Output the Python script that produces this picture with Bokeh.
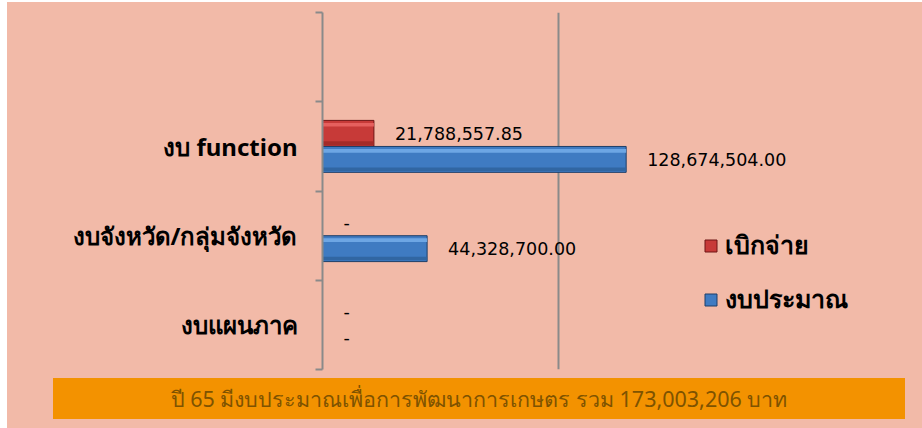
from bokeh.plotting import figure
from bokeh.models import (ColumnDataSource, Range1d, LinearAxis, FixedTicker, Legend, LegendItem,
                          Div, Grid)
from bokeh.transform import dodge
from bokeh.layouts import column
from bokeh.core.properties import value
from bokeh.embed import file_html
from bokeh.resources import INLINE

# ---- data ----
categories = ["งบ function", "งบจังหวัด/กลุ่มจังหวัด", "งบแผนภาค"]
disbursed = [21788557.85, 0.0, 0.0]          # เบิกจ่าย
budget = [128674504.00, 44328700.00, 0.0]    # งบประมาณ
series_names = ["เบิกจ่าย", "งบประมาณ"]
grid_ticks = [100e6]
banner_text = "ปี 65 มีงบประมาณเพื่อการพัฒนาการเกษตร รวม 173,003,206 บาท"

# ---- styles ----
BG = "#F2BAA8"
GRAY = "#8A8A8A"
RED, RED_HI, RED_LO, RED_LN = "#C73A38", "#E96563", "#A02A28", "#6E1515"
BLU, BLU_HI, BLU_LO, BLU_LN = "#3F7BC2", "#72ABE8", "#30649F", "#1E3E68"
THAI_FONT = "Noto Sans"

n = len(categories)
slots = n + 1                                   # top slot of the category axis is empty
centers = [n - 1 - i + 0.5 for i in range(n)]   # category slots, top to bottom


def fmt(v):
    return "-" if v == 0 else f"{v:,.2f}"


src = ColumnDataSource(dict(
    ypos=centers,
    disb=disbursed,
    bud=budget,
    disb_lbl=[fmt(v) for v in disbursed],
    bud_lbl=[fmt(v) for v in budget],
    disb_ln=[RED_LN if v else "rgba(0,0,0,0)" for v in disbursed],
    bud_ln=[BLU_LN if v else "rgba(0,0,0,0)" for v in budget],
))

p = figure(width=915, height=370,
           y_range=Range1d(0, slots), x_range=Range1d(0, 250e6),
           output_backend="svg", toolbar_location=None,
           x_axis_location=None, y_axis_location=None,
           min_border_left=315, min_border_right=10, min_border_top=10, min_border_bottom=3,
           background_fill_color=BG, border_fill_color=BG, outline_line_color=None)
p.xgrid.visible = False
p.ygrid.visible = False

p.add_layout(Grid(dimension=0, ticker=FixedTicker(ticks=grid_ticks),
                  grid_line_color=GRAY, grid_line_width=2))

ax = LinearAxis(ticker=FixedTicker(ticks=centers, minor_ticks=list(range(slots + 1))),
                major_label_overrides={c: lab for c, lab in zip(centers, categories)},
                major_tick_out=0, major_tick_in=0, minor_tick_out=7, minor_tick_in=0,
                major_tick_line_color=None,
                minor_tick_line_color=GRAY, minor_tick_line_width=2,
                axis_line_color=GRAY, axis_line_width=2,
                major_label_standoff=18, major_label_text_font=THAI_FONT,
                major_label_text_font_style="bold",
                major_label_text_font_size="24px", major_label_text_color="black")
p.add_layout(ax, "left")

H = 0.29
OFF = 0.146


def bevel_bar(field, off, main, hi, lo, ln_field):
    r = p.hbar(y=dodge("ypos", off), left=0, right=field, height=H,
               source=src, fill_color=main, line_color=ln_field, line_width=1)
    p.hbar(y=dodge("ypos", off + H * 0.33), left=0, right=field, height=H * 0.14,
           source=src, fill_color=hi, fill_alpha=0.9, line_color=None)
    p.hbar(y=dodge("ypos", off - H * 0.38), left=0, right=field, height=H * 0.14,
           source=src, fill_color=lo, fill_alpha=0.9, line_color=None)
    return r


r_red = bevel_bar("disb", OFF, RED, RED_HI, RED_LO, "disb_ln")
r_blu = bevel_bar("bud", -OFF, BLU, BLU_HI, BLU_LO, "bud_ln")

for field, lbl, off in (("disb", "disb_lbl", OFF), ("bud", "bud_lbl", -OFF)):
    p.text(x=field, y=dodge("ypos", off), text=lbl, source=src,
           x_offset=21, text_baseline="middle", text_align="left",
           text_font=value("DejaVu Sans"), text_font_size="17.5px", text_color="black")

legend = Legend(items=[LegendItem(label=series_names[0], renderers=[r_red]),
                       LegendItem(label=series_names[1], renderers=[r_blu])],
                location=(381, 50), glyph_width=15, glyph_height=15,
                label_text_font=THAI_FONT, label_text_font_size="25px",
                label_text_font_style="bold", label_text_color="black",
                label_standoff=7, spacing=14,
                padding=0, margin=0, border_line_color=None, background_fill_alpha=0)
p.add_layout(legend)

banner = Div(text=banner_text, width=852, height=41, margin=(6, 0, 0, 46),
             styles={"background-color": "#F39200", "color": "#7E5300",
                     "font-family": "Noto Sans, sans-serif", "font-size": "21.5px",
                     "text-align": "center", "line-height": "41px",
                     "box-sizing": "border-box"})

layout = column(p, banner, margin=(2, 0, 0, 7), spacing=0,
                styles={"background-color": BG}, width=915, height=426)

open("out.html", "w", encoding="utf-8").write(file_html(layout, INLINE))
